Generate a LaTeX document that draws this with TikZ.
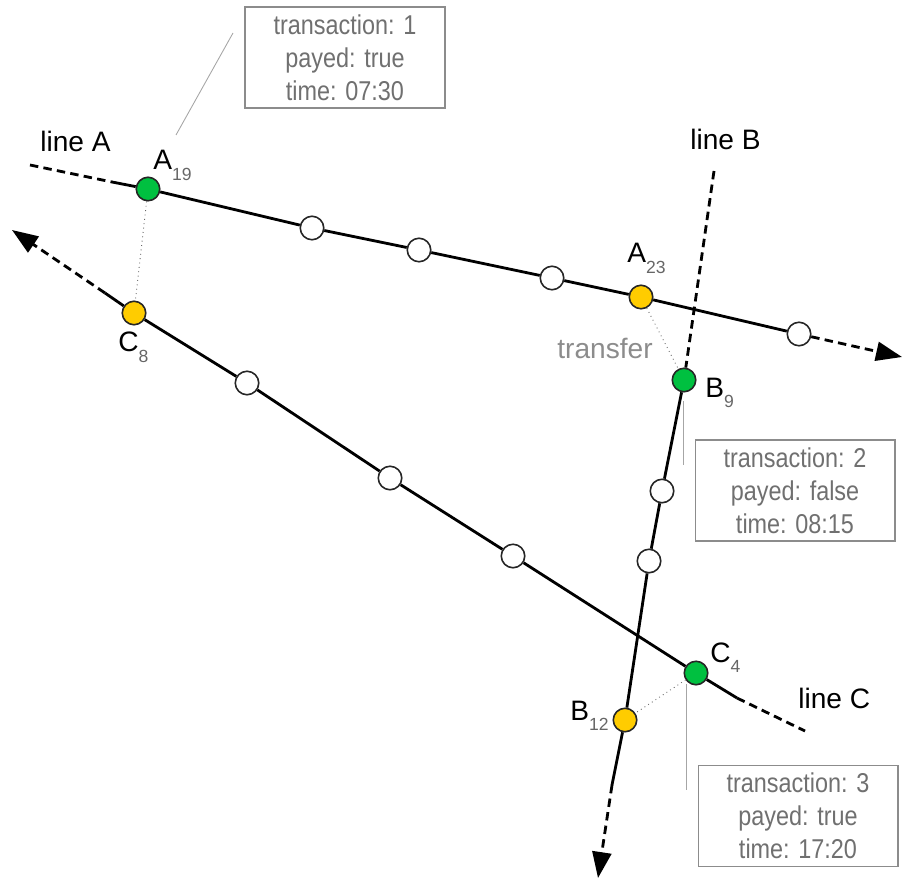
\documentclass[tikz,border=0pt]{standalone}
\usepackage{fontspec}
\setmainfont{Liberation Sans}
\newfontfamily\boxfont[FakeStretch=0.86]{Liberation Sans}
\usetikzlibrary{arrows.meta}

\definecolor{stopgreen}{RGB}{0,192,64}
\definecolor{stopyellow}{RGB}{255,204,0}
\definecolor{infogray}{RGB}{112,112,112}
\newcommand{\stopidx}[2]{#1\raisebox{-6pt}{\fontsize{10}{10}\selectfont\color{black!60}#2}}

\begin{document}
\begin{tikzpicture}[
	x=0.02cm, y=-0.02cm,
	stop/.style={
		circle,
		draw=black!85,
		line width=0.9pt,
		fill=white,
		minimum size=4.7mm,
		inner sep=0pt
	},
	hit/.style={stop, fill=stopgreen},
	miss/.style={stop, fill=stopyellow},
	track/.style={line width=1.6pt, black},
	ext/.style={track, dash pattern=on 4.8pt off 3pt},
	far/.style={ext, -{Triangle[length=5.2mm, width=3.8mm]}},
	link/.style={dotted, black!60, line width=0.5pt},
	pointer/.style={black!35, line width=0.5pt},
	info/.style={
		rectangle,
		draw=black!45,
		line width=0.6pt,
		fill=white,
		minimum width=4cm,
		minimum height=2.02cm,
		align=center,
		inner sep=2pt,
		text=infogray,
		font=\boxfont\fontsize{15.5}{18.8}\selectfont
	},
	lbl/.style={font=\fontsize{16}{19}\selectfont, inner sep=0pt, anchor=base west}
]
\useasboundingbox (0,0) rectangle (902,878);

% ends of the lines
\coordinate (aW) at (30,165);
\coordinate (aw) at (112,182);
\coordinate (aE) at (902,357);
\coordinate (bN) at (714,171);
\coordinate (bs) at (612,785);
\coordinate (bS) at (598,878);
\coordinate (cW) at (12,230);
\coordinate (cw) at (105,293);
\coordinate (ce) at (737,698);
\coordinate (cE) at (805,731);

% stops, line A
\node[hit] (a19) at (148,189) {};
\node[stop] (a20) at (312,228) {};
\node[stop] (a21) at (419,250) {};
\node[stop] (a22) at (552,278) {};
\node[miss] (a23) at (641,297) {};
\node[stop] (a24) at (799,334) {};

% stops, line B
\node[hit] (b9) at (684,380) {};
\node[stop] (b10) at (662,491) {};
\node[stop] (b11) at (649,561) {};
\node[miss] (b12) at (625,720) {};

% stops, line C
\node[miss] (c8) at (134,313) {};
\node[stop] (c7) at (247,383) {};
\node[stop] (c6) at (390,478) {};
\node[stop] (c5) at (513,556) {};
\node[hit] (c4) at (696,673) {};

\draw[ext] (aW) -- (aw);
\draw[track] (aw) -- (a19) -- (a20) -- (a21) -- (a22) -- (a23) -- (a24);
\draw[far] (a24) -- (aE);

\draw[ext] (bN) -- (b9);
\draw[track] (b9) -- (b10) -- (b11) -- (b12) -- (bs);
\draw[far] (bs) -- (bS);

\draw[far] (cw) -- (cW);
\draw[track] (cw) -- (c8) -- (c7) -- (c6) -- (c5) -- (c4) -- (ce);
\draw[ext] (ce) -- (cE);

% transfers
\draw[link] (a19) -- (c8);
\draw[link] (a23) -- (b9);
\draw[link] (c4) -- (b12);

\node[lbl] (la) at (40,152) {line A};
\node[lbl] (lb) at (690,150) {line B};
\node[lbl] (lc) at (798,708) {line C};
\node[lbl, text=black!45] (tr) at (557,358) {transfer};

\node[lbl] (na19) at (153,170) {\stopidx{A}{19}};
\node[lbl] (na23) at (627,263) {\stopidx{A}{23}};
\node[lbl] (nc8) at (118,352) {\stopidx{C}{8}};
\node[lbl] (nb9) at (705,397) {\stopidx{B}{9}};
\node[lbl] (nb12) at (570,720) {\stopidx{B}{12}};
\node[lbl] (nc4) at (710,662) {\stopidx{C}{4}};

% tickets
\node[info] (t1) at (345,57.5) {transaction: 1\\payed: true\\time: 07:30};
\node[info] (t2) at (795,490.5) {transaction: 2\\payed: false\\time: 08:15};
\node[info] (t3) at (798,816) {transaction: 3\\payed: true\\time: 17:20};

\coordinate (p1) at (233,33);
\coordinate (q1) at (176,135);
\coordinate (p2) at (683,401);
\coordinate (q2) at (683,465);
\coordinate (p3) at (686,684);
\coordinate (q3) at (686,790);
\draw[pointer] (p1) -- (q1);
\draw[pointer] (p2) -- (q2);
\draw[pointer] (p3) -- (q3);
\end{tikzpicture}
\end{document}
